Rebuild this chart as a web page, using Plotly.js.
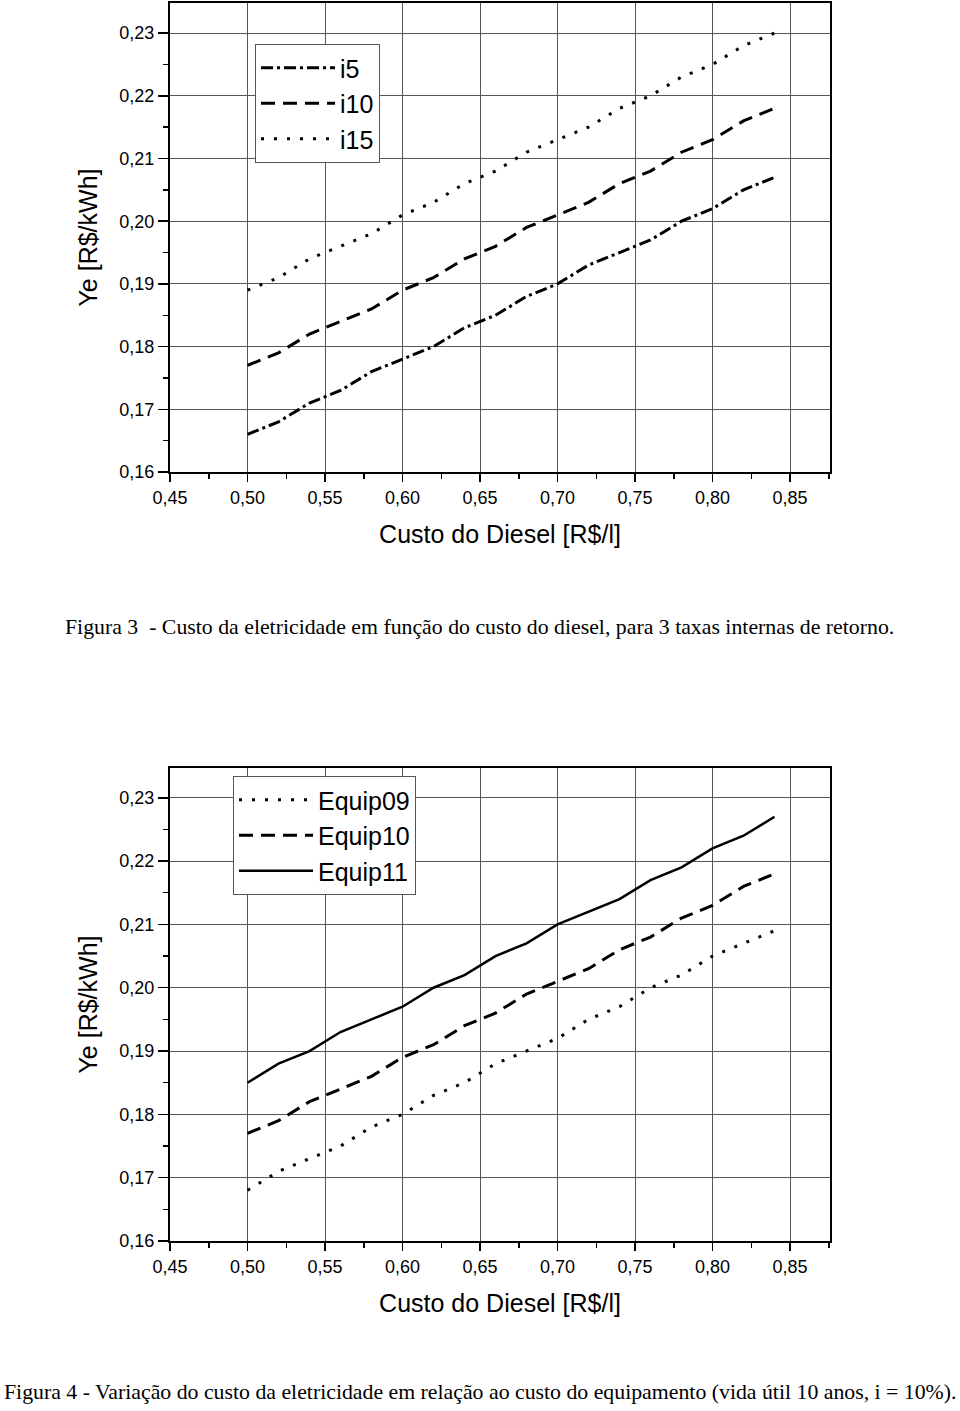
<!DOCTYPE html>
<html>
<head>
<meta charset="utf-8">
<script src="https://cdn.plot.ly/plotly-3.0.1.min.js"></script>
<style>html,body{margin:0;padding:0;background:#fff;}#chart{width:960px;height:1411px;}</style>
</head>
<body>
<div id="chart"></div>
<script>
// Diesel cost (R$/l)
const diesel = [0.50,0.52,0.54,0.56,0.58,0.60,0.62,0.64,0.66,0.68,0.70,0.72,0.74,0.76,0.78,0.80,0.82,0.84];

// Figure 3 series (Ye, R$/kWh)
const i5  = [0.166,0.168,0.171,0.173,0.176,0.178,0.180,0.183,0.185,0.188,0.190,0.193,0.195,0.197,0.200,0.202,0.205,0.207];
const i10 = [0.177,0.179,0.182,0.184,0.186,0.189,0.191,0.194,0.196,0.199,0.201,0.203,0.206,0.208,0.211,0.213,0.216,0.218];
const i15 = [0.189,0.191,0.194,0.196,0.198,0.201,0.203,0.206,0.208,0.211,0.213,0.215,0.218,0.220,0.223,0.225,0.228,0.230];

// Figure 4 series
const equip09 = [0.168,0.171,0.173,0.175,0.178,0.180,0.183,0.185,0.188,0.190,0.192,0.195,0.197,0.200,0.202,0.205,0.207,0.209];
const equip10 = [0.177,0.179,0.182,0.184,0.186,0.189,0.191,0.194,0.196,0.199,0.201,0.203,0.206,0.208,0.211,0.213,0.216,0.218];
const equip11 = [0.185,0.188,0.190,0.193,0.195,0.197,0.200,0.202,0.205,0.207,0.210,0.212,0.214,0.217,0.219,0.222,0.224,0.227];

const xTickVals = [0.45,0.50,0.55,0.60,0.65,0.70,0.75,0.80,0.85];
const xTickText = ['0,45','0,50','0,55','0,60','0,65','0,70','0,75','0,80','0,85'];
const yTickVals = [0.16,0.17,0.18,0.19,0.20,0.21,0.22,0.23];
const yTickText = ['0,16','0,17','0,18','0,19','0,20','0,21','0,22','0,23'];

const xTitle = 'Custo do Diesel [R$/l]';
const yTitle = 'Ye [R$/kWh]';
const caption3 = 'Figura 3  - Custo da eletricidade em função do custo do diesel, para 3 taxas internas de retorno.';
const caption4 = 'Figura 4 - Variação do custo da eletricidade em relação ao custo do equipamento (vida útil 10 anos, i = 10%).';

const sans = '"Liberation Sans", Arial, sans-serif';
const serif = '"Liberation Serif", "Times New Roman", serif';

const DASHDOT = '12px,4px,3px,4px';
const DASH = '14px,8px';
const DOT = '3px,10px';

const traces = [
  {x: diesel, y: i5,  name: 'i5',  mode: 'lines', line: {color: '#000', width: 3, dash: DASHDOT}, xaxis: 'x', yaxis: 'y', legend: 'legend'},
  {x: diesel, y: i10, name: 'i10', mode: 'lines', line: {color: '#000', width: 3, dash: DASH}, xaxis: 'x', yaxis: 'y', legend: 'legend'},
  {x: diesel, y: i15, name: 'i15', mode: 'lines', line: {color: '#000', width: 3, dash: DOT}, xaxis: 'x', yaxis: 'y', legend: 'legend'},
  {x: diesel, y: equip09, name: 'Equip09', mode: 'lines', line: {color: '#000', width: 3, dash: DOT}, xaxis: 'x2', yaxis: 'y2', legend: 'legend2'},
  {x: diesel, y: equip10, name: 'Equip10', mode: 'lines', line: {color: '#000', width: 3, dash: DASH}, xaxis: 'x2', yaxis: 'y2', legend: 'legend2'},
  {x: diesel, y: equip11, name: 'Equip11', mode: 'lines', line: {color: '#000', width: 2.5, dash: 'solid'}, xaxis: 'x2', yaxis: 'y2', legend: 'legend2'}
];

const H = 1411, W = 960;
const px = v => v / W;
const py = v => 1 - v / H;

function xAxis(anchor, domain) {
  return {
    domain: domain, anchor: anchor, range: [0.45, 0.8758],
    tickmode: 'array', tickvals: xTickVals, ticktext: xTickText,
    ticks: 'outside', ticklen: 8, tickwidth: 1.5, tickcolor: '#000',
    minor: {dtick: 0.025, tick0: 0.45, ticks: 'outside', ticklen: 5, tickwidth: 1.5, tickcolor: '#000', showgrid: false},
    showgrid: true, gridcolor: '#555', gridwidth: 1,
    showline: true, linecolor: '#000', linewidth: 2, mirror: true,
    zeroline: false,
    tickfont: {family: sans, size: 18, color: '#000'},
    title: {text: xTitle, font: {family: sans, size: 25, color: '#000'}, standoff: 19}
  };
}
function yAxis(anchor, domain, top) {
  return {
    domain: domain, anchor: anchor, range: [0.16, top],
    tickmode: 'array', tickvals: yTickVals, ticktext: yTickText,
    ticks: 'outside', ticklen: 10, tickwidth: 1.5, tickcolor: '#000',
    minor: {dtick: 0.005, tick0: 0.16, ticks: 'outside', ticklen: 5, tickwidth: 1.5, tickcolor: '#000', showgrid: false},
    showgrid: true, gridcolor: '#555', gridwidth: 1,
    showline: true, linecolor: '#000', linewidth: 2, mirror: true,
    zeroline: false,
    tickfont: {family: sans, size: 18, color: '#000'},
    title: {text: yTitle, font: {family: sans, size: 25, color: '#000'}, standoff: 15}
  };
}

const legendBase = {
  bgcolor: '#fff', bordercolor: '#555', borderwidth: 1,
  font: {family: sans, size: 25, color: '#000'},
  xanchor: 'left', yanchor: 'top', itemwidth: 74, tracegroupgap: 0
};

const layout = {
  width: W, height: H,
  margin: {l: 0, r: 0, t: 0, b: 0},
  paper_bgcolor: '#fff', plot_bgcolor: '#fff',
  showlegend: true,
  xaxis: xAxis('y', [px(170), px(830)]),
  yaxis: yAxis('x', [py(472), py(3)], 0.2348),
  xaxis2: xAxis('y2', [px(170), px(830)]),
  yaxis2: yAxis('x2', [py(1241), py(768)], 0.2347),
  legend: Object.assign({}, legendBase, {x: px(255), y: py(44)}),
  legend2: Object.assign({}, legendBase, {x: px(233), y: py(776)}),
  annotations: [
    {text: caption3, xref: 'paper', yref: 'paper', x: px(479), y: py(627), showarrow: false,
     font: {family: serif, size: 21.8, color: '#000'}, xanchor: 'center', yanchor: 'middle'},
    {text: caption4, xref: 'paper', yref: 'paper', x: px(480), y: py(1392), showarrow: false,
     font: {family: serif, size: 21.8, color: '#000'}, xanchor: 'center', yanchor: 'middle'}
  ]
};

Plotly.newPlot('chart', traces, layout, {staticPlot: true, displayModeBar: false});
</script>
</body>
</html>
